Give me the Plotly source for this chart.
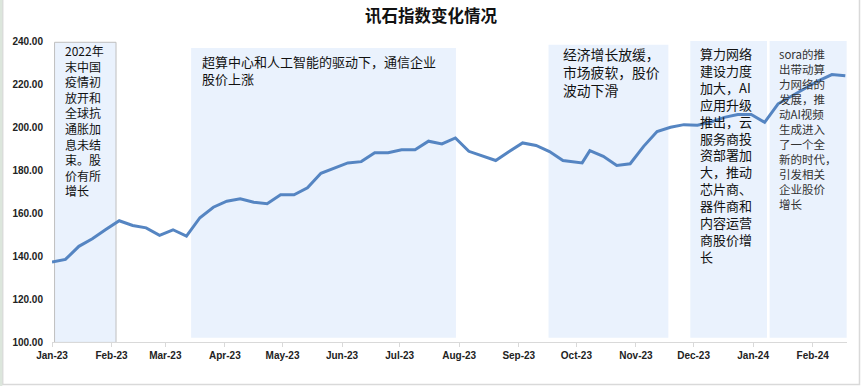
import plotly.graph_objects as go

# ---------------- data ----------------
dates = [
    "2023-01-01", "2023-01-08", "2023-01-15", "2023-01-22", "2023-01-29",
    "2023-02-05", "2023-02-12", "2023-02-19", "2023-02-26",
    "2023-03-05", "2023-03-12", "2023-03-19", "2023-03-26",
    "2023-04-02", "2023-04-09", "2023-04-16", "2023-04-23", "2023-04-30",
    "2023-05-07", "2023-05-14", "2023-05-21", "2023-05-28",
    "2023-06-04", "2023-06-11", "2023-06-18", "2023-06-25",
    "2023-07-02", "2023-07-09", "2023-07-16", "2023-07-23", "2023-07-30",
    "2023-08-06", "2023-08-13", "2023-08-20", "2023-08-27",
    "2023-09-03", "2023-09-10", "2023-09-17", "2023-09-24",
    "2023-10-04", "2023-10-08", "2023-10-15", "2023-10-22", "2023-10-29",
    "2023-11-05", "2023-11-12", "2023-11-19", "2023-11-26",
    "2023-12-03", "2023-12-10", "2023-12-17", "2023-12-24", "2023-12-31",
    "2024-01-07", "2024-01-14", "2024-01-21", "2024-01-28",
    "2024-02-04", "2024-02-11", "2024-02-18",
]
index_values = [
    137.2, 138.4, 144.5, 148.0, 152.3,
    156.4, 154.2, 153.1, 149.6,
    152.2, 149.2, 157.8, 162.7,
    165.5, 166.6, 165.0, 164.3, 168.5,
    168.5, 171.7, 178.5, 180.8,
    183.3, 183.9, 188.0, 188.0,
    189.4, 189.4, 193.4, 192.1, 194.9,
    188.7, 186.7, 184.4, 188.6,
    192.6, 191.4, 188.6, 184.4,
    183.3, 189.0, 186.4, 182.1, 182.9,
    191.0, 197.9, 199.9, 201.1,
    200.8, 202.3, 204.5, 205.8, 205.8,
    202.2, 210.8, 214.5, 218.0,
    221.5, 224.4, 223.8,
]
y_ticks = [100, 120, 140, 160, 180, 200, 220, 240]

title_text = "讯石指数变化情况"

# annotation periods
periods = [
    dict(x0="2023-01-02 08:00", x1="2023-02-03 08:00", top=239.4, bottom=99.8,
         lines=["2022年", "末中国", "疫情初", "放开和", "全球抗", "通胀加",
                "息未结", "束。股", "价有所", "增长"],
         tx="2023-01-06 12:00", ty=239.5, shift=1.8, size=12,
         color="#111111", bordered=True),
    dict(x0="2023-03-14 10:00", x1="2023-07-30 07:00", top=236.7, bottom=102.0,
         lines=["超算中心和人工智能的驱动下，通信企业", "股价上涨"],
         tx="2023-03-18 20:00", ty=235.6, shift=0.5, size=13,
         color="#111111", bordered=False),
    dict(x0="2023-09-16 12:00", x1="2023-11-17 21:00", top=238.3, bottom=102.0,
         lines=["经济增长放缓，", "市场疲软，股价", "波动下滑"],
         tx="2023-09-22 18:00", ty=239.4, shift=0, size=13.8,
         color="#111111", bordered=False),
    dict(x0="2023-11-29 07:00", x1="2024-01-08 05:00", top=240.0, bottom=102.0,
         lines=["算力网络", "建设力度", "加大，AI", "应用升级", "推出，云",
                "服务商投", "资部署加", "大，推动", "芯片商、", "器件商和",
                "内容运营", "商股价增", "长"],
         tx="2023-12-03 06:00", ty=239.5, shift=0, size=13,
         color="#111111", bordered=False),
    dict(x0="2024-01-09 14:00", x1="2024-02-18 17:00", top=240.0, bottom=102.0,
         lines=["sora的推", "出带动算", "力网络的", "发展，推", "动AI视频",
                "生成进入", "了一个全", "新的时代，", "引发相关", "企业股价", "增长"],
         tx="2024-01-13 12:00", ty=238.7, shift=0, size=11.5,
         color="#333333", bordered=False),
]

# ---------------- figure ----------------
fig = go.Figure()

fig.add_trace(go.Scatter(
    x=dates, y=index_values, mode="lines",
    line=dict(color="#5585C2", width=3),
    hoverinfo="x+y", showlegend=False,
))

shapes = []
annotations = []
for p in periods:
    shapes.append(dict(
        type="rect", xref="x", yref="y", x0=p["x0"], x1=p["x1"],
        y0=p["bottom"], y1=p["top"],
        fillcolor="#EAF2FD",
        line=dict(color="#BFBFBF" if p["bordered"] else "rgba(0,0,0,0)", width=1),
        layer="below",
    ))
    annotations.append(dict(
        x=p["tx"], y=p["ty"], xref="x", yref="y", text="<br>".join(p["lines"]),
        showarrow=False, xanchor="left", yanchor="top", align="left",
        yshift=p["shift"],
        font=dict(family="Noto Sans CJK SC", size=p["size"], color=p["color"]),
    ))

# outer chart frame
shapes.append(dict(type="rect", xref="paper", yref="paper",
                   x0=-0.062, x1=1.0157, y0=-0.1412, y1=1.14,
                   line=dict(color="#D9D9D9", width=1.5),
                   fillcolor="rgba(0,0,0,0)", layer="below"))
shapes.append(dict(type="rect", xref="paper", yref="paper",
                   x0=-0.0660, x1=-0.0625, y0=-0.15, y1=1.15,
                   line=dict(width=0), fillcolor="#DCE6DC", layer="below"))

fig.update_layout(
    width=862, height=386,
    margin=dict(l=52, r=15, t=41, b=44),
    paper_bgcolor="white", plot_bgcolor="white",
    shapes=shapes, annotations=annotations,
    font=dict(family="Liberation Sans"),
    title=dict(
        text="<b>" + title_text + "</b>", x=0.5, xanchor="center",
        y=0.957, yanchor="middle", yref="container",
        font=dict(family="Noto Sans CJK SC", size=16.5, color="#111111"),
    ),
    xaxis=dict(
        type="date",
        range=["2023-01-01", "2024-02-18 21:00"],
        tick0="2023-01-01", dtick="M1", tickformat="%b-%y",
        ticks="outside", ticklen=4, tickcolor="#D9D9D9",
        showline=True, linecolor="#D9D9D9", linewidth=1,
        showgrid=False, zeroline=False,
        tickfont=dict(family="Liberation Sans", size=10, color="#222222", weight="bold"),
    ),
    yaxis=dict(
        range=[100, 240], tickvals=y_ticks,
        ticktext=[f"{v:.2f}" for v in y_ticks],
        ticks="outside", ticklen=6, tickcolor="rgba(0,0,0,0)",
        showline=False, showgrid=False, zeroline=False,
        tickfont=dict(family="Liberation Sans", size=10, color="#222222", weight="bold"),
    ),
)

fig.write_html("out.html", config={"displayModeBar": False},
               post_script="document.body.style.margin='0';document.body.style.padding='0';")
